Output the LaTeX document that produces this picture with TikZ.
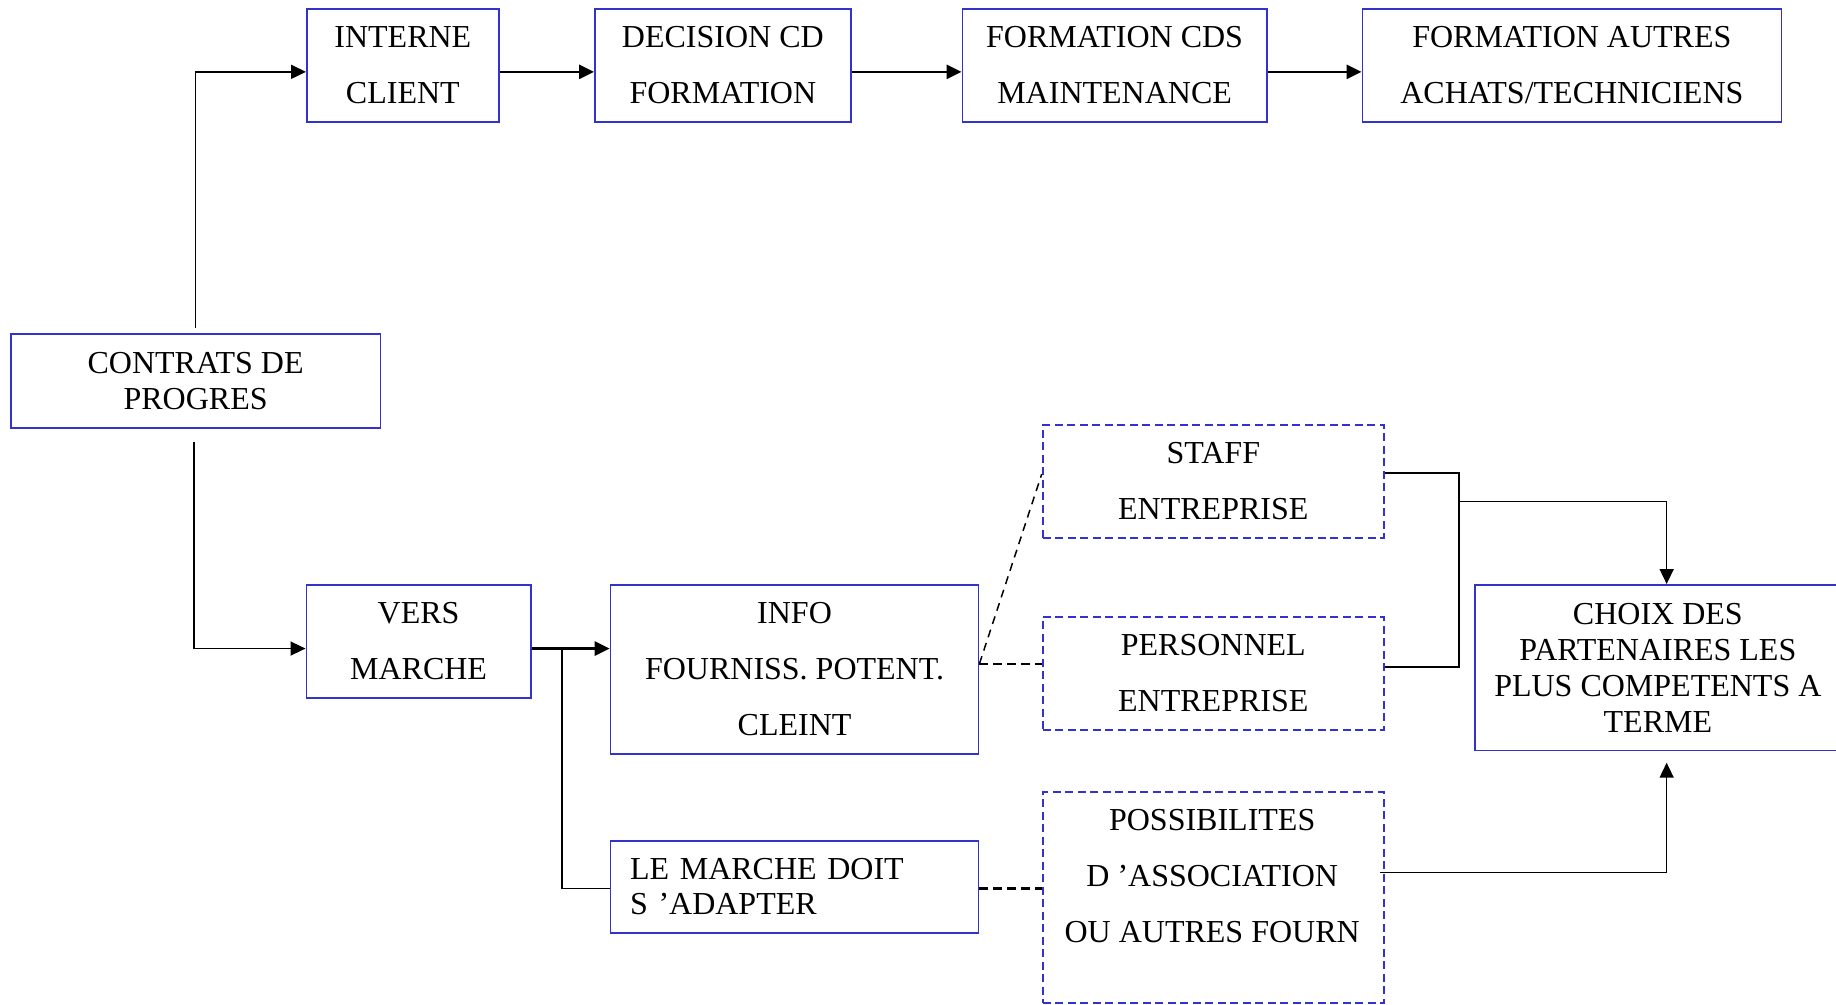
\documentclass[tikz,border=0pt]{standalone}
\usepackage{fontspec}
\setmainfont{Liberation Serif}
\usetikzlibrary{arrows.meta,calc}
\definecolor{boxblue}{RGB}{51,51,204}
\begin{document}
\begin{tikzpicture}[x=1pt,y=-1pt,
  box/.style={draw=boxblue, line width=1.7pt, inner sep=0pt, anchor=north west, align=center, font=\fontsize{32}{56}\selectfont},
  tight/.style={font=\fontsize{32}{36}\selectfont},
  dbox/.style={box, line width=2.2pt, dash pattern=on 8pt off 4.5pt},
  thickarr/.style={line width=2.7pt, -{Triangle[length=15pt,width=14pt]}},
  thinarr/.style={line width=1.6pt, -{Triangle[length=15pt,width=14pt]}},
  thinline/.style={line width=1.6pt},
  blackdash/.style={line width=2.7pt, dash pattern=on 8.3pt off 5.7pt},
  diagdash/.style={line width=1.5pt, dash pattern=on 8pt off 6pt},
]
\useasboundingbox (0,0) rectangle (1836,1004);

\node[box, minimum width=192pt, minimum height=113pt] (interne) at (306,8) {INTERNE\\CLIENT};
\node[box, minimum width=256pt, minimum height=113pt] (decision) at (594,8) {DECISION CD\\FORMATION};
\node[box, minimum width=304.5pt, minimum height=113pt] (fcds) at (961.5,8) {FORMATION CDS\\MAINTENANCE};
\node[box, minimum width=419pt, minimum height=113pt] (fautres) at (1361.5,8) {FORMATION AUTRES\\ACHATS/TECHNICIENS};
\node[box, tight, minimum width=369.5pt, minimum height=94pt] (contrats) at (10,333) {CONTRATS DE\\PROGRES};
\node[box, minimum width=224.5pt, minimum height=113pt] (vers) at (305.5,584) {VERS\\MARCHE};
\node[box, minimum width=368pt, minimum height=169pt] (info) at (609.7,584) {INFO\\FOURNISS. POTENT.\\CLEINT};
\node[box, font=\fontsize{32}{35}\selectfont, align=left, text width=329pt, inner xsep=19.5pt, minimum height=92pt] (marche) at (609.7,840) {LE MARCHE DOIT\\S ’ADAPTER};
\node[dbox, minimum width=341pt, minimum height=113pt] (staff) at (1041.7,423.5) {STAFF\\ENTREPRISE};
\node[dbox, minimum width=341pt, minimum height=113.5pt] (personnel) at (1041.7,615.5) {PERSONNEL\\ENTREPRISE};
\node[dbox, minimum width=341pt, minimum height=211pt] (poss) at (1041.7,791) {};
\node[align=center, inner sep=0pt, anchor=north, font=\fontsize{32}{56}\selectfont] (posst) at (1212.2,809.1) {POSSIBILITES\\D ’ASSOCIATION\\OU AUTRES FOURN};
\node[box, tight, minimum width=366pt, minimum height=165.5pt] (choix) at (1474,584) {CHOIX DES\\PARTENAIRES LES\\PLUS COMPETENTS A\\TERME};

% top row
\draw[thinarr] ($(contrats.north)+(0,-5)$) |- ([yshift=-6.5pt]interne.west);
\foreach \a/\b in {interne/decision, decision/fcds, fcds/fautres}
  \draw[thickarr] ([yshift=-6.5pt]\a.east) -- ([yshift=-6.5pt]\b.west);

% bottom
\draw[thinarr] ($(contrats.south)+(-1.5,13)$) |- ([yshift=-7.2pt]vers.west);
\coordinate (vm) at ([yshift=-7.2pt]vers.east);
\draw[thickarr] (vm) -- (vm -| info.west);
\coordinate (br) at (562,647.7);
\draw[thinline] (br) |- ([yshift=-1.7pt]marche.west);

\coordinate (ie) at ([yshift=5.5pt]info.east);
\draw[blackdash] (ie) -- (ie -| personnel.west);
\draw[diagdash] (ie) -- ([yshift=7pt]staff.west);
\coordinate (me) at ([yshift=-1.7pt]marche.east);
\draw[blackdash] (me) -- (me -| poss.west);

\coordinate (jx) at (1459,0);
\coordinate (se) at ([yshift=8.4pt]staff.east);
\coordinate (pe) at ([yshift=6.3pt]personnel.east);
\draw[thinline] (se) -- (se -| jx) -- (jx |- pe) -- (pe);
\coordinate (j3) at (1459,501.3);
\draw[thinarr] (j3) -| ([xshift=8.8pt]choix.north);

\coordinate (pse) at ([xshift=-4.7pt,yshift=25pt]poss.east);
\draw[thinarr] (pse) -| ([xshift=8.8pt,yshift=-11.5pt]choix.south);
\end{tikzpicture}
\end{document}
